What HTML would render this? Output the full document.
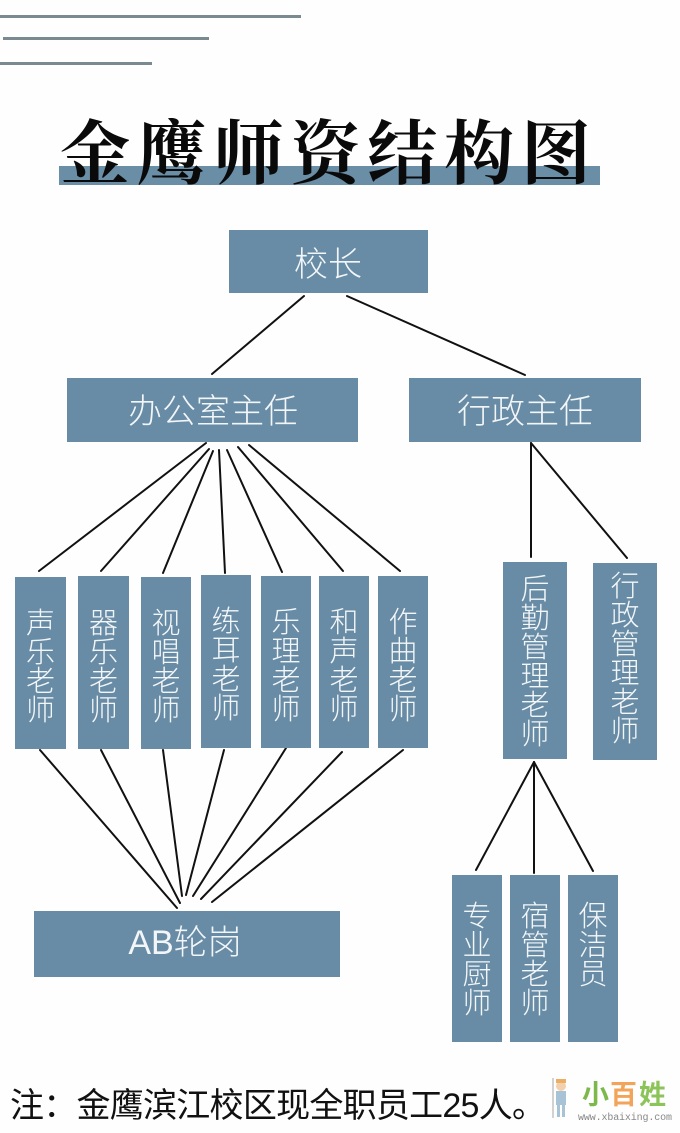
<!DOCTYPE html>
<html>
<head>
<meta charset="utf-8">
<style>
  html,body{margin:0;padding:0;background:#fefefe;}
  svg{display:block;}
  .box{fill:#688ca5;}
  .ln{stroke:#111;stroke-width:2;stroke-linecap:round;}
  .t{font-family:"Liberation Sans","Noto Sans CJK SC",sans-serif;fill:#f3f6f8;font-weight:300;}
</style>
</head>
<body>
<svg width="680" height="1133" viewBox="0 0 680 1133" xmlns="http://www.w3.org/2000/svg">
  <rect x="0" y="0" width="680" height="1133" fill="#fefefe"/>

  <!-- decorative top lines -->
  <rect x="0" y="15" width="301" height="3" fill="#7b8a90"/>
  <rect x="3" y="37" width="206" height="3" fill="#7b8a90"/>
  <rect x="0" y="62" width="152" height="3" fill="#7b8a90"/>

  <!-- title -->
  <rect x="59" y="166" width="541" height="19" fill="#6a8ea6"/>
  <text x="60" y="178" font-family="'Liberation Serif','Noto Serif CJK SC',serif" font-weight="700" font-size="70" fill="#0a0a0a" textLength="531" lengthAdjust="spacing">金鹰师资结构图</text>

  <!-- connectors -->
  <line class="ln" x1="304" y1="296" x2="212" y2="374"/>
  <line class="ln" x1="347" y1="296" x2="525" y2="375"/>

  <line class="ln" x1="206" y1="443" x2="39" y2="571"/>
  <line class="ln" x1="209" y1="449" x2="101" y2="571"/>
  <line class="ln" x1="213" y1="451" x2="163" y2="573"/>
  <line class="ln" x1="219" y1="450" x2="225" y2="573"/>
  <line class="ln" x1="227" y1="450" x2="282" y2="572"/>
  <line class="ln" x1="238" y1="447" x2="343" y2="571"/>
  <line class="ln" x1="249" y1="445" x2="400" y2="571"/>

  <line class="ln" x1="531" y1="443" x2="531" y2="557"/>
  <line class="ln" x1="531" y1="443" x2="627" y2="558"/>

  <line class="ln" x1="40" y1="750" x2="177" y2="908"/>
  <line class="ln" x1="101" y1="750" x2="180" y2="903"/>
  <line class="ln" x1="163" y1="750" x2="182" y2="896"/>
  <line class="ln" x1="224" y1="750" x2="186" y2="895"/>
  <line class="ln" x1="286" y1="748" x2="193" y2="896"/>
  <line class="ln" x1="342" y1="752" x2="201" y2="899"/>
  <line class="ln" x1="403" y1="750" x2="212" y2="902"/>

  <line class="ln" x1="534" y1="762" x2="476" y2="870"/>
  <line class="ln" x1="534" y1="762" x2="534" y2="873"/>
  <line class="ln" x1="534" y1="762" x2="593" y2="871"/>

  <!-- top boxes -->
  <rect class="box" x="229" y="230" width="199" height="63"/>
  <text class="t" x="328" y="276" font-size="34" text-anchor="middle">校长</text>

  <rect class="box" x="67" y="378" width="291" height="64"/>
  <text class="t" x="213" y="423" font-size="34" text-anchor="middle">办公室主任</text>

  <rect class="box" x="409" y="378" width="232" height="64"/>
  <text class="t" x="525" y="423" font-size="34" text-anchor="middle">行政主任</text>

  <!-- teacher boxes -->
  <rect class="box" x="15" y="577" width="51" height="172"/>
  <rect class="box" x="78" y="576" width="51" height="173"/>
  <rect class="box" x="141" y="577" width="50" height="172"/>
  <rect class="box" x="201" y="575" width="50" height="173"/>
  <rect class="box" x="261" y="576" width="50" height="172"/>
  <rect class="box" x="319" y="576" width="50" height="172"/>
  <rect class="box" x="378" y="576" width="50" height="172"/>

  <g class="t" font-size="29" text-anchor="middle">
    <text x="40.5" y="633">声</text><text x="40.5" y="662">乐</text><text x="40.5" y="691">老</text><text x="40.5" y="720">师</text>
    <text x="103.5" y="633">器</text><text x="103.5" y="662">乐</text><text x="103.5" y="691">老</text><text x="103.5" y="720">师</text>
    <text x="166" y="633">视</text><text x="166" y="662">唱</text><text x="166" y="691">老</text><text x="166" y="720">师</text>
    <text x="226" y="631">练</text><text x="226" y="660">耳</text><text x="226" y="689">老</text><text x="226" y="718">师</text>
    <text x="286" y="632">乐</text><text x="286" y="661">理</text><text x="286" y="690">老</text><text x="286" y="719">师</text>
    <text x="344" y="632">和</text><text x="344" y="661">声</text><text x="344" y="690">老</text><text x="344" y="719">师</text>
    <text x="403" y="632">作</text><text x="403" y="661">曲</text><text x="403" y="690">老</text><text x="403" y="719">师</text>
  </g>

  <!-- admin side boxes -->
  <rect class="box" x="503" y="562" width="64" height="197"/>
  <rect class="box" x="593" y="563" width="64" height="197"/>
  <g class="t" font-size="29" text-anchor="middle">
    <text x="535" y="599">后</text><text x="535" y="628">勤</text><text x="535" y="657">管</text><text x="535" y="686">理</text><text x="535" y="715">老</text><text x="535" y="744">师</text>
    <text x="625" y="596">行</text><text x="625" y="625">政</text><text x="625" y="654">管</text><text x="625" y="683">理</text><text x="625" y="712">老</text><text x="625" y="741">师</text>
  </g>

  <!-- AB box -->
  <rect class="box" x="34" y="911" width="306" height="66"/>
  <text class="t" x="185" y="954" font-size="34" text-anchor="middle">AB轮岗</text>

  <!-- logistics sub boxes -->
  <rect class="box" x="452" y="875" width="50" height="167"/>
  <rect class="box" x="510" y="875" width="50" height="167"/>
  <rect class="box" x="568" y="875" width="50" height="167"/>
  <g class="t" font-size="29" text-anchor="middle">
    <text x="477" y="926">专</text><text x="477" y="955">业</text><text x="477" y="984">厨</text><text x="477" y="1013">师</text>
    <text x="535" y="926">宿</text><text x="535" y="955">管</text><text x="535" y="984">老</text><text x="535" y="1013">师</text>
    <text x="593" y="926">保</text><text x="593" y="955">洁</text><text x="593" y="984">员</text>
  </g>

  <!-- note -->
  <text x="10" y="1117" font-family="'Liberation Sans','Noto Sans CJK SC',sans-serif" font-size="34" fill="#111" textLength="536" lengthAdjust="spacing">注：金鹰滨江校区现全职员工25人。</text>

  <!-- watermark -->
  <g opacity="0.85">
    <circle cx="561" cy="1086" r="5" fill="#f2c9a0"/>
    <rect x="556" y="1079" width="10" height="4" fill="#e9a04a"/>
    <rect x="556" y="1091" width="10" height="14" fill="#9ab8d0"/>
    <rect x="557" y="1105" width="3" height="12" fill="#9ab8d0"/>
    <rect x="562" y="1105" width="3" height="12" fill="#9ab8d0"/>
    <line x1="553" y1="1078" x2="553" y2="1118" stroke="#999" stroke-width="1"/>
  </g>
  <text x="582" y="1104" font-family="'Liberation Sans','Noto Sans CJK SC',sans-serif" font-size="27" font-weight="bold" fill="#7cb84a">小</text>
  <text x="610" y="1104" font-family="'Liberation Sans','Noto Sans CJK SC',sans-serif" font-size="27" font-weight="bold" fill="#f2a55a">百</text>
  <text x="639" y="1104" font-family="'Liberation Sans','Noto Sans CJK SC',sans-serif" font-size="27" font-weight="bold" fill="#8cc45a">姓</text>
  <text x="578" y="1120" font-family="'Liberation Mono',monospace" font-size="10" fill="#888" textLength="94" lengthAdjust="spacing">www.xbaixing.com</text>
</svg>
</body>
</html>
